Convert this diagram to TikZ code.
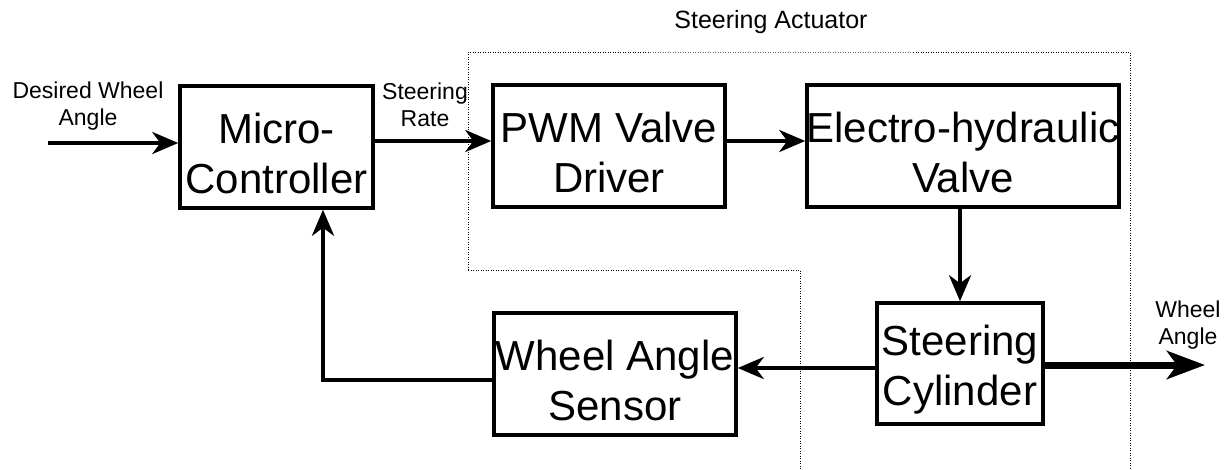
\documentclass[tikz,border=0pt]{standalone}
\usepackage{fontspec}
\setmainfont{Liberation Sans}
\usetikzlibrary{arrows.meta}
\begin{document}
\begin{tikzpicture}[x=1pt,y=-1pt,
  block/.style={draw, line width=3.5pt, inner sep=0pt},
  blocktext/.style={inner sep=0pt, align=center, yshift=-6pt,
    font=\fontsize{42}{50}\selectfont},
  lbl/.style={inner sep=0pt, align=center, font=\fontsize{23}{27}\selectfont},
  arr/.style={line width=4pt, -{Stealth[length=26pt,width=22pt,inset=8pt]}},
  bigarr/.style={line width=7pt, -{Stealth[length=38pt,width=28pt,inset=10pt]}},
  region/.style={line width=1pt, dash pattern=on 1pt off 1.5pt},
  faintregion/.style={line width=0.6pt, black!60, dash pattern=on 1pt off 1.5pt}]
\useasboundingbox (0,0) rectangle (1231,469);

% blocks
\node[block, minimum width=193pt, minimum height=122pt] (mc)   at (276.5,147) {};
\node[block, minimum width=232pt, minimum height=122pt] (pwm)  at (609,146)   {};
\node[block, minimum width=312pt, minimum height=122pt] (elec) at (963,146)   {};
\node[block, minimum width=166pt, minimum height=121pt] (cyl)  at (960,363.5) {};
\node[block, minimum width=242pt, minimum height=122pt] (sens) at (615,374)   {};

% block captions
\node[blocktext] (mct)   at (mc.center)   {Micro-\\Controller};
\node[blocktext] (pwmt)  at (pwm.center)  {PWM Valve\\Driver};
\node[blocktext] (elect) at (elec.center) {Electro-hydraulic\\Valve};
\node[blocktext] (cylt)  at (cyl.center)  {Steering\\Cylinder};
\node[blocktext] (senst) at (sens.center) {Wheel Angle\\Sensor};

% steering actuator boundary
\coordinate (a1) at (468,270);
\coordinate (a2) at (468,52);
\coordinate (b1) at (650,52);
\coordinate (b2) at (913,52);
\coordinate (a3) at (1130,52);
\coordinate (a4) at (1130,469);
\coordinate (a5) at (800,270);
\coordinate (a6) at (800,469);
\draw[region] (a1) -- (a2) -- (b1);
\draw[faintregion] (b1) -- (b2);
\draw[region] (b2) -- (a3) -- (a4);
\draw[region] (a1) -- (a5) -- (a6);
\node[lbl, font=\fontsize{25}{29}\selectfont] (act) at (771,22) {Steering Actuator};

% signal labels
\node[lbl] (dwa) at (88,106) {Desired Wheel\\Angle};
\node[lbl] (sr)  at (425,105) {Steering\\Rate};
\node[lbl] (wa)  at (1188,325) {Wheel\\Angle};

% row coordinates for connectors
\coordinate (in)  at (48,143);
\coordinate (r1)  at (0,141);
\coordinate (r2)  at (0,368);
\coordinate (r3)  at (0,365);
\coordinate (r4)  at (0,380);
\coordinate (fb)  at (323,0);
\coordinate (out) at (1205,365);

% connectors
\draw[arr] (in) -- (in -| mc.west);
\draw[arr] (mc.east |- r1) -- (pwm.west |- r1);
\draw[arr] (pwm.east |- r1) -- (elec.west |- r1);
\draw[arr] (elec.south -| cyl.north) -- (cyl.north);
\draw[arr] (cyl.west |- r2) -- (sens.east |- r2);
\draw[bigarr] (cyl.east |- r3) -- (out);
\draw[arr] (sens.west |- r4) -| (mc.south -| fb);
\end{tikzpicture}
\end{document}
